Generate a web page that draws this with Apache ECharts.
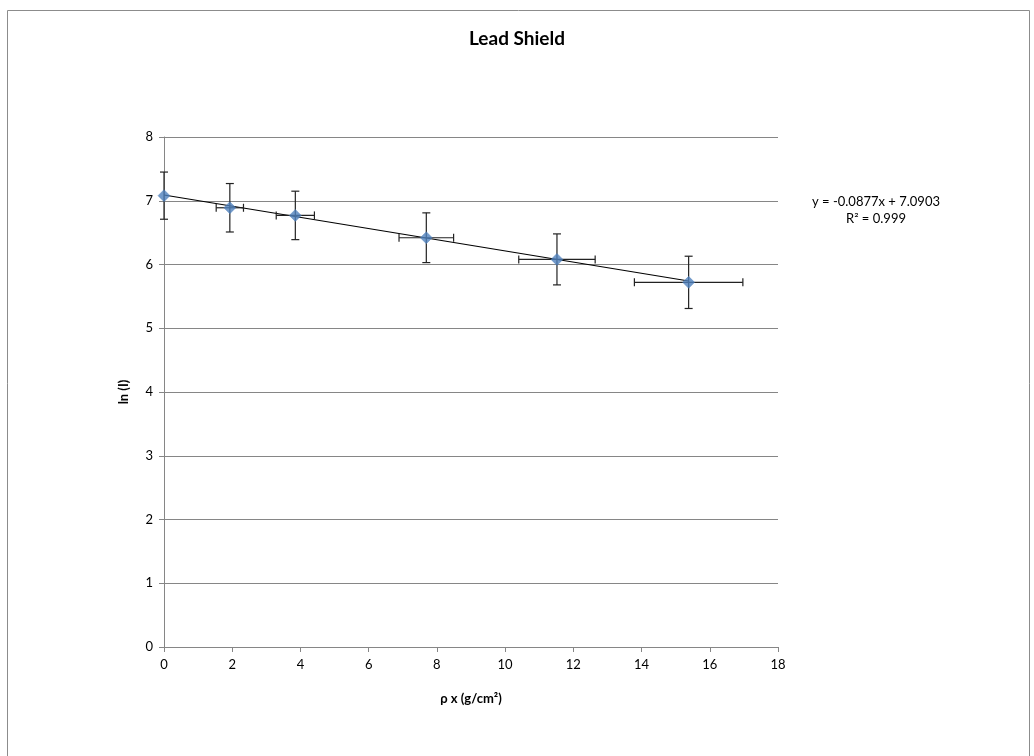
<!DOCTYPE html>
<html>
<head>
<meta charset="utf-8">
<script src="https://cdn.jsdelivr.net/npm/echarts@6/dist/echarts.min.js"></script>
<style>
html,body{margin:0;padding:0;background:#fff;}
#c{width:1034px;height:756px;}
</style>
</head>
<body>
<div id="c"></div>
<script>
// Data
const xVals = [0, 1.93, 3.85, 7.69, 11.52, 15.38];
const yVals = [7.08, 6.89, 6.77, 6.42, 6.08, 5.72];
const xErr  = [0, 0.40, 0.56, 0.80, 1.12, 1.59];
const yErr  = [0.37, 0.38, 0.38, 0.39, 0.40, 0.41];
const trendSlope = -0.0877;
const trendIntercept = 7.0903;
const titleText = 'Lead Shield';
const xAxisName = 'ρ x (g/cm²)';
const yAxisName = 'ln (I)';
const eqLines = ['y = -0.0877x + 7.0903', 'R² = 0.999'];

const FONT = 'Lato, "Open Sans", sans-serif';
const points = xVals.map((x, i) => [x, yVals[i]]);
const errData = xVals.map((x, i) => [x, yVals[i], xErr[i], yErr[i]]);
const xMaxData = Math.max(...xVals);
const trendData = [[0, trendIntercept], [xMaxData, trendIntercept + trendSlope * xMaxData]];

const chart = echarts.init(document.getElementById('c'), null, {renderer: 'canvas'});
const option = {
  backgroundColor: '#fff',
  animation: false,
  title: {
    text: titleText, left: 'center', top: 24,
    textStyle: {fontFamily: FONT, fontSize: 19, fontWeight: 'bold', color: '#000'}
  },
  graphic: [
    {type: 'rect', left: 5, top: 8, shape: {width: 1022, height: 760}, style: {fill: 'none', stroke: '#8c8c8c', lineWidth: 1}, silent: true, z: -1},
    {type: 'text', x: 876, y: 202, style: {text: eqLines[0], fontFamily: FONT, fontSize: 13, fill: '#000', textAlign: 'center', textVerticalAlign: 'middle'}},
    {type: 'text', x: 876, y: 219, style: {text: eqLines[1], fontFamily: FONT, fontSize: 13, fill: '#000', textAlign: 'center', textVerticalAlign: 'middle'}}
  ],
  grid: {left: 164, right: 256, top: 137, bottom: 109, containLabel: false},
  xAxis: {
    type: 'value', min: 0, max: 18, interval: 2,
    name: xAxisName, nameLocation: 'middle', nameGap: 45,
    nameTextStyle: {fontFamily: FONT, fontSize: 13, fontWeight: 'bold', color: '#000'},
    axisLine: {show: true, onZero: false, lineStyle: {color: '#868686', width: 1}},
    axisTick: {show: true, inside: false, length: 5, lineStyle: {color: '#868686'}},
    axisLabel: {fontFamily: FONT, fontSize: 13, color: '#000', margin: 11},
    splitLine: {show: false}
  },
  yAxis: {
    type: 'value', min: 0, max: 8, interval: 1,
    name: yAxisName, nameLocation: 'middle', nameGap: 34, nameRotate: 90,
    nameTextStyle: {fontFamily: FONT, fontSize: 13, fontWeight: 'bold', color: '#000'},
    axisLine: {show: true, onZero: false, lineStyle: {color: '#868686', width: 1}},
    axisTick: {show: true, inside: false, length: 5, lineStyle: {color: '#868686'}},
    axisLabel: {fontFamily: FONT, fontSize: 13, color: '#000', margin: 11},
    splitLine: {show: true, lineStyle: {color: '#868686', width: 1}}
  },
  series: [
    {
      type: 'line', data: trendData, symbol: 'none', z: 3,
      lineStyle: {color: '#000', width: 1.2}, silent: true
    },
    {
      type: 'custom', z: 4, silent: true,
      renderItem: function (params, api) {
        const x = api.value(0), y = api.value(1), ex = api.value(2), ey = api.value(3);
        const cap = 4;
        const children = [];
        const style = {stroke: '#222', lineWidth: 1.2};
        if (ey > 0) {
          const top = api.coord([x, y + ey]);
          const bot = api.coord([x, y - ey]);
          children.push({type: 'line', shape: {x1: top[0], y1: top[1], x2: bot[0], y2: bot[1]}, style});
          children.push({type: 'line', shape: {x1: top[0] - cap, y1: top[1], x2: top[0] + cap, y2: top[1]}, style});
          children.push({type: 'line', shape: {x1: bot[0] - cap, y1: bot[1], x2: bot[0] + cap, y2: bot[1]}, style});
        }
        if (ex > 0) {
          const l = api.coord([x - ex, y]);
          const r = api.coord([x + ex, y]);
          children.push({type: 'line', shape: {x1: l[0], y1: l[1], x2: r[0], y2: r[1]}, style});
          children.push({type: 'line', shape: {x1: l[0], y1: l[1] - cap, x2: l[0], y2: l[1] + cap}, style});
          children.push({type: 'line', shape: {x1: r[0], y1: r[1] - cap, x2: r[0], y2: r[1] + cap}, style});
        }
        return {type: 'group', children};
      },
      data: errData
    },
    {
      type: 'scatter', data: points, symbol: 'diamond', symbolSize: 12, z: 5,
      itemStyle: {color: '#4F81BD', borderColor: '#4A7EBB', borderWidth: 0.5}
    }
  ]
};
chart.setOption(option);
</script>
</body>
</html>
